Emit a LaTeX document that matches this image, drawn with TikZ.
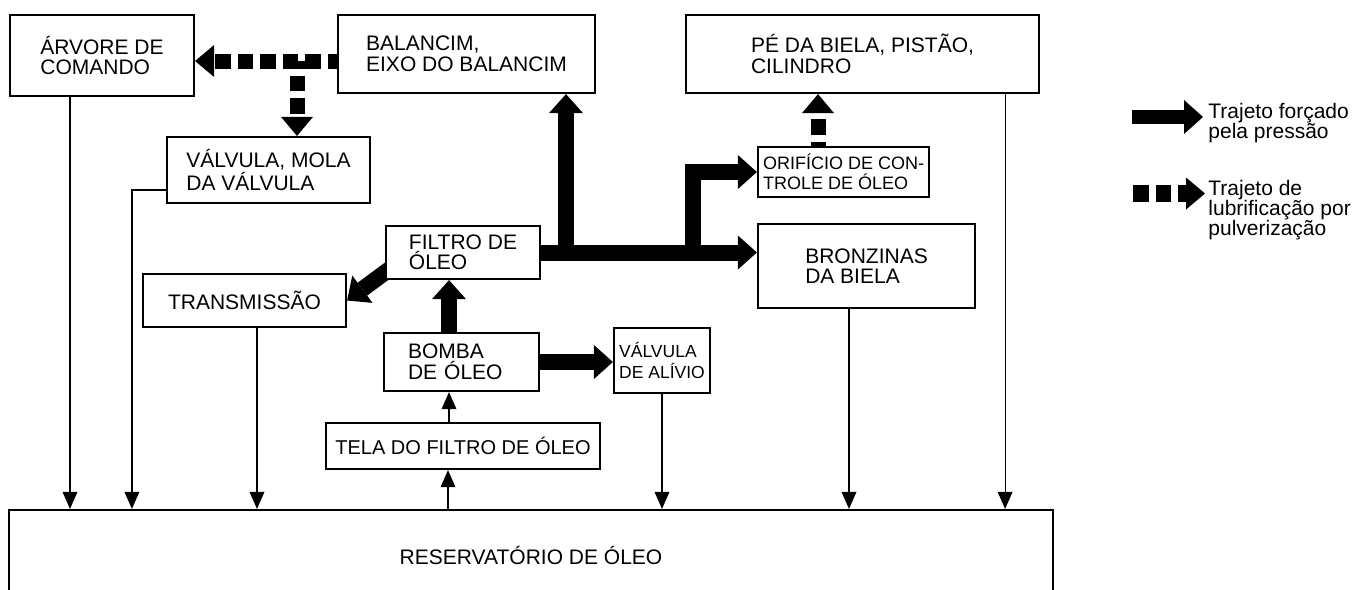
\documentclass[tikz,border=0pt]{standalone}
\usepackage{fontspec}
\setmainfont{Liberation Sans}
\usetikzlibrary{arrows.meta,calc,backgrounds}
\tikzset{
  oil box/.style={draw, fill=white, line width=1.1pt, align=left, inner sep=0pt,
    font=\fontsize{10.5}{10.25}\selectfont},
  oil small/.style={oil box, font=\fontsize{9}{10}\selectfont},
  oil press/.style={line width=8pt, -{Triangle[length=9.5pt, width=17pt, line width=0pt]}},
  oil spray/.style={line width=7.5pt, dash pattern=on 7.75pt off 3.5pt,
    -{Triangle[length=9.5pt, width=16pt, line width=0pt]}},
  oil drain/.style={line width=0.6pt, -{Triangle[length=8.5pt, width=7.5pt, line width=0pt]}},
  oil legend/.style={anchor=north west, inner sep=0pt, align=left,
    font=\fontsize{10.5}{10}\selectfont}
}
\begin{document}
\begin{tikzpicture}[x=0.5pt, y=-0.5pt]
\path[use as bounding box] (0,0) rectangle (1359,589);
% boxes
\node[oil box, minimum width=92pt, minimum height=40.5pt] (arvore) at (102,55.5) {ÁRVORE DE\\COMANDO};
\node[oil box, minimum width=128.5pt, minimum height=39pt] (balancim) at (466.5,54) {BALANCIM,\\EIXO DO BALANCIM};
\node[oil box, minimum width=176.5pt, minimum height=39pt] (pe) at (862.5,54) {PÉ DA BIELA, PISTÃO,\\CILINDRO};
\node[oil box, minimum width=101.5pt, minimum height=33pt] (valvula) at (268.5,170) {VÁLVULA, MOLA\\DA VÁLVULA};
\node[oil small, minimum width=85.5pt, minimum height=25pt] (orificio) at (843.5,172) {ORIFÍCIO DE CON-\\TROLE DE ÓLEO};
\node[oil box, minimum width=77pt, minimum height=26.5pt] (filtro) at (463,252.5) {FILTRO DE\\ÓLEO};
\node[oil box, minimum width=108.5pt, minimum height=42pt] (bronzinas) at (866.5,266) {BRONZINAS\\DA BIELA};
\node[oil box, minimum width=101.5pt, minimum height=26.5pt] (transmissao) at (244.5,300.5) {TRANSMISSÃO};
\node[oil box, minimum width=77.5pt, minimum height=29pt, text width=53.5pt] (bomba) at (461.5,362) {BOMBA\\DE ÓLEO};
\node[oil box, font=\fontsize{8.75}{10.5}\selectfont, minimum width=48pt, minimum height=32.5pt] (alivio) at (662,360.5) {VÁLVULA\\DE ALÍVIO};
\node[oil box, font=\fontsize{10}{10}\selectfont, minimum width=137pt, minimum height=23pt] (tela) at (463,446) {TELA DO FILTRO DE ÓLEO};
\node[oil box, minimum width=522pt, minimum height=45pt] (reservatorio) at (531,555) {RESERVATÓRIO DE ÓLEO};

\begin{scope}[on background layer]
\fill[white] (0,0) rectangle (1359,589);
% pressure paths
\draw[oil press] (filtro.east) -- (bronzinas.west |- filtro.east);
\coordinate (j1) at ($(balancim.south)+(99.5,0)$);
\draw[oil press] (j1 |- filtro.east) -- (j1);
\coordinate (j2) at ($(orificio.west)+(-64,0)$);
\draw[oil press] (j2 |- filtro.east) |- (orificio.west);
\coordinate (b1) at ($(bomba.north)+(-12.5,0)$);
\draw[oil press] (b1) -- (b1 |- filtro.south);
\draw[oil press] (bomba.east) -- (alivio.west |- bomba.east);
\draw[oil press] ($(filtro.south west)+(6,-12)$) -- (transmissao.east);
% spray paths
\coordinate (s1) at ($(balancim.west)+(0,7)$);
\draw[oil spray, dash phase=3.25pt] (s1) -- (arvore.east |- s1);
\coordinate (s2) at ($(valvula.north)+(28.5,0)$);
\draw[oil spray, dash phase=4pt] (s2 |- s1) -- (s2);
\coordinate (s3) at ($(orificio.north)+(-25.5,0)$);
\draw[oil spray, dash phase=5.75pt] (s3) -- (s3 |- pe.south);
% drains to the reservoir
\coordinate (d1) at ($(arvore.south)+(-32,0)$);
\draw[oil drain] (d1) -- (d1 |- reservatorio.north);
\coordinate (d2) at ($(valvula.west)+(0,20)$);
\draw[oil drain] (d2) -| ($(reservatorio.north west)+(124,0)$);
\coordinate (d3) at ($(transmissao.south)+(12.5,0)$);
\draw[oil drain] (d3) -- (d3 |- reservatorio.north);
\coordinate (d4) at ($(tela.south)+(-15,0)$);
\draw[oil drain] (d4 |- reservatorio.north) -- (d4);
\coordinate (d5) at ($(bomba.south)+(-12.5,0)$);
\draw[oil drain] (d5 |- tela.north) -- (d5);
\draw[oil drain] (alivio.south) -- (alivio.south |- reservatorio.north);
\coordinate (d6) at ($(bronzinas.south)+(-17.5,0)$);
\draw[oil drain] (d6) -- (d6 |- reservatorio.north);
\coordinate (d7) at ($(pe.south east)+(-35,0)$);
\draw[oil drain] (d7) -- (d7 |- reservatorio.north);
\end{scope}

% legend
\node[oil legend] (leg1) at (1208,102.5) {Trajeto forçado\\pela pressão};
\node[oil legend] (leg2) at (1208,180) {Trajeto de\\lubrificação por\\pulverização};
\draw[oil press, line width=7pt] ($(leg1.north west)+(-76,14.5)$) -- ($(leg1.north west)+(-5,14.5)$);
\draw[oil spray, line width=8.5pt] ($(leg2.north west)+(-75,13.5)$) -- ($(leg2.north west)+(-3,13.5)$);
\end{tikzpicture}
\end{document}
